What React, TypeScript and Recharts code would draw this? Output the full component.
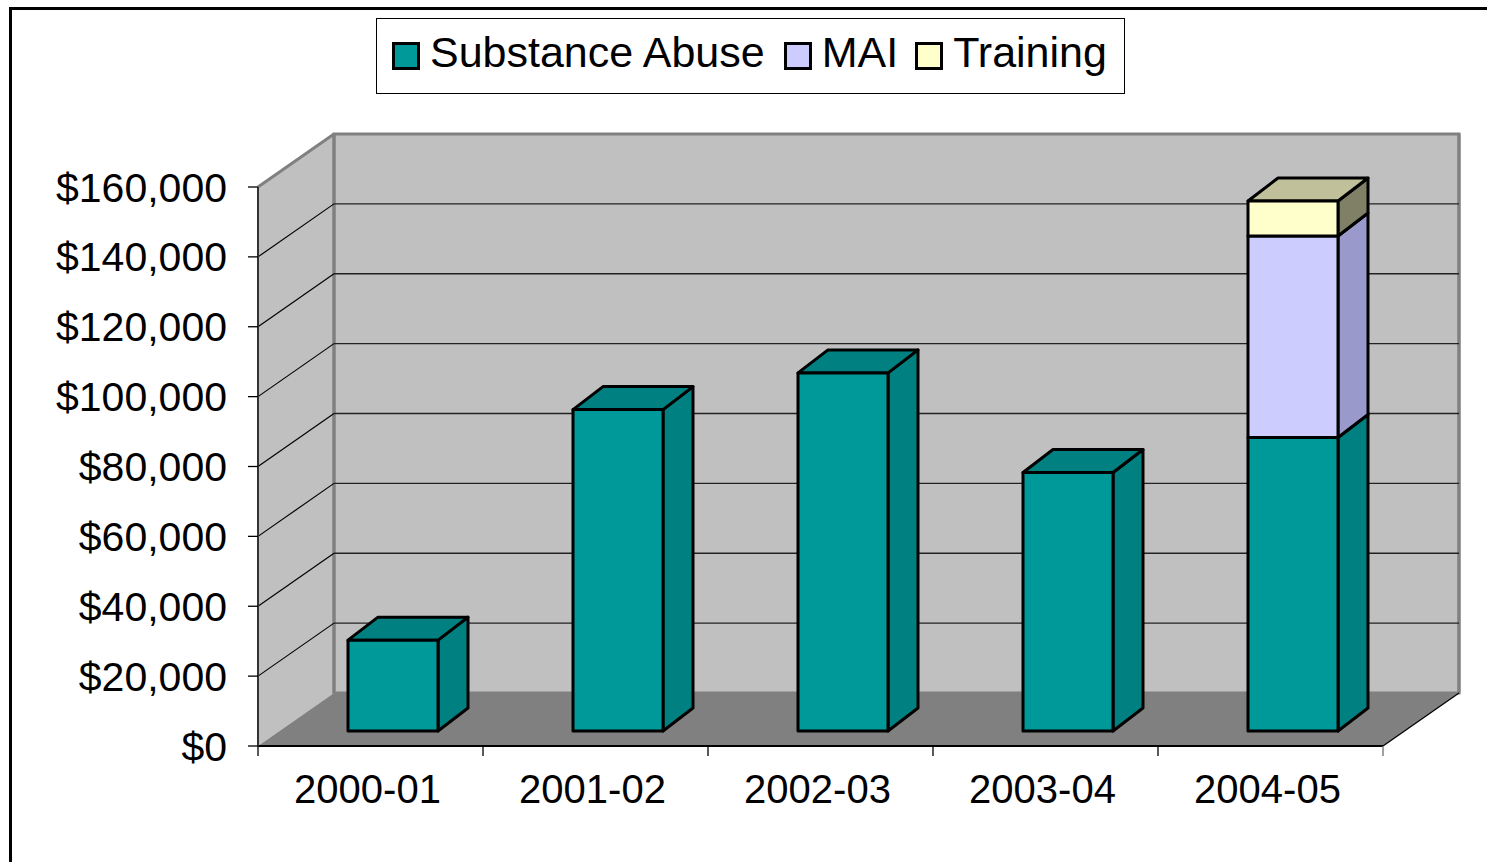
import React from 'react';
import { BarChart, Bar, XAxis, YAxis, CartesianGrid, Legend } from 'recharts';

const categories = ['2000-01', '2001-02', '2002-03', '2003-04', '2004-05'];
const substanceAbuse = [26000, 92000, 102500, 74000, 84000];
const mai = [0, 0, 0, 0, 57700];
const training = [0, 0, 0, 0, 10000];
const yTicks = [0, 20000, 40000, 60000, 80000, 100000, 120000, 140000, 160000];
const seriesNames = ['Substance Abuse', 'MAI', 'Training'];
const seriesKeys = ['sa', 'mai', 'training'];

const data = categories.map((c, i) => ({
  name: c,
  sa: substanceAbuse[i],
  mai: mai[i],
  training: training[i],
}));

const FONT = '"Liberation Sans", Arial, Helvetica, sans-serif';
const WALL_DX = 76;
const WALL_DY = -53;
const BAR_DX = 22;
const BAR_DY = -15;
const DEPTH_DX = 30;
const DEPTH_DY = -23;

const colors: Record<string, { front: string; top: string; side: string }> = {
  sa: { front: '#009999', top: '#008080', side: '#008080' },
  mai: { front: '#CCCCFF', top: '#AAAADD', side: '#9999CC' },
  training: { front: '#FFFFCC', top: '#C0C09B', side: '#808066' },
};

function topKeyOf(payload: any) {
  if (!payload) return null;
  for (let i = seriesKeys.length - 1; i >= 0; i--) {
    if (payload[seriesKeys[i]] > 0) return seriesKeys[i];
  }
  return null;
}

const makeBarShape = (key: string) => (props: any) => {
  const { x, y, width, height, payload } = props;
  if (!(height > 0.5)) return <g />;
  const c = colors[key];
  const fx = x + BAR_DX;
  const fy = y + BAR_DY;
  const w = width;
  const h = height;
  const showTop = topKeyOf(payload) === key;
  const sw = 3;
  return (
    <g>
      <polygon
        points={`${fx + w},${fy} ${fx + w + DEPTH_DX},${fy + DEPTH_DY} ${fx + w + DEPTH_DX},${fy + h + DEPTH_DY} ${fx + w},${fy + h}`}
        fill={c.side}
        stroke="#000"
        strokeWidth={sw}
        strokeLinejoin="round"
      />
      {showTop && (
        <polygon
          points={`${fx},${fy} ${fx + DEPTH_DX},${fy + DEPTH_DY} ${fx + w + DEPTH_DX},${fy + DEPTH_DY} ${fx + w},${fy}`}
          fill={c.top}
          stroke="#000"
          strokeWidth={sw}
          strokeLinejoin="round"
        />
      )}
      <rect x={fx} y={fy} width={w} height={h} fill={c.front} stroke="#000" strokeWidth={sw} strokeLinejoin="round" />
    </g>
  );
};

const renderGridLine = (p: any) => {
  const { x1, x2, y1, index } = p;
  const gx = typeof p.x === 'number' ? p.x : x1;
  const gw = typeof p.width === 'number' ? p.width : x2 - x1;
  const gy = p.y;
  const gh = p.height;
  const L = gx;
  const R = gx + gw;
  const hasBox = typeof gy === 'number' && typeof gh === 'number';
  const T = hasBox ? gy : -9999;
  const B = hasBox ? gy + gh : -9999;
  const isEdge = Math.abs(y1 - T) < 1 || Math.abs(y1 - B) < 1;
  const walls =
    index === 0 && hasBox ? (
      <g>
        <polygon
          points={`${L},${B} ${L},${T} ${L + WALL_DX},${T + WALL_DY} ${L + WALL_DX},${B + WALL_DY}`}
          fill="#C0C0C0"
        />
        <rect x={L + WALL_DX} y={T + WALL_DY} width={R - L} height={B - T} fill="#C0C0C0" stroke="#808080" strokeWidth={3} />
        <polygon
          points={`${L},${B} ${R},${B} ${R + WALL_DX},${B + WALL_DY} ${L + WALL_DX},${B + WALL_DY}`}
          fill="#808080"
        />
        <line x1={L} y1={T} x2={L + WALL_DX} y2={T + WALL_DY} stroke="#808080" strokeWidth={3} />
        <line x1={L + WALL_DX} y1={T + WALL_DY} x2={L + WALL_DX} y2={B + WALL_DY} stroke="#808080" strokeWidth={3} />
        <line x1={R + WALL_DX} y1={T + WALL_DY} x2={R + WALL_DX} y2={B + WALL_DY} stroke="#808080" strokeWidth={3} />
        <line x1={R} y1={B} x2={R + WALL_DX} y2={B + WALL_DY} stroke="#000" strokeWidth={1.3} />
      </g>
    ) : null;
  return (
    <g key={`hl-${index}`}>
      {walls}
      {!isEdge && (
        <g>
          <line x1={L} y1={y1} x2={L + WALL_DX} y2={y1 + WALL_DY} stroke="#000" strokeWidth={1.2} />
          <line x1={L + WALL_DX} y1={y1 + WALL_DY} x2={R + WALL_DX} y2={y1 + WALL_DY} stroke="#222" strokeWidth={1.3} />
        </g>
      )}
    </g>
  );
};

const XTick = (p: any) => {
  const { x, y, payload, index, visibleTicksCount, width } = p;
  const count = visibleTicksCount || categories.length;
  const half = typeof payload?.offset === 'number' && payload.offset > 0 ? payload.offset : width / count / 2;
  const axisY = y - 12;
  return (
    <g>
      <line x1={x - half} y1={axisY} x2={x - half} y2={axisY + 10} stroke="#000" strokeWidth={1.3} />
      {index === count - 1 && <line x1={x + half} y1={axisY} x2={x + half} y2={axisY + 10} stroke="#808080" strokeWidth={1.5} />}
      <text x={x - 3} y={y + 45} textAnchor="middle" fontSize={40} fontFamily={FONT} fill="#000">
        {payload.value}
      </text>
    </g>
  );
};

const renderLegend = () => (
  <div
    style={{
      boxSizing: 'border-box',
      width: 749,
      height: 76,
      border: '1px solid #000',
      background: '#fff',
      display: 'flex',
      alignItems: 'center',
      paddingLeft: 15,
      paddingBottom: 7,
      fontFamily: FONT,
      fontSize: 43,
      lineHeight: 1,
      color: '#000',
    }}
  >
    {seriesKeys.map((k, i) => (
      <div key={k} style={{ display: 'flex', alignItems: 'center', marginRight: i === 0 ? 19 : 17 }}>
        <div
          style={{
            boxSizing: 'border-box',
            width: 28,
            height: 28,
            border: '3px solid #000',
            background: colors[k].front,
            marginRight: 10,
            marginTop: 6,
          }}
        />
        <span style={{ whiteSpace: 'nowrap' }}>{seriesNames[i]}</span>
      </div>
    ))}
  </div>
);

const fmt = (v: number) => '$' + v.toLocaleString('en-US');

export default function App() {
  return (
    <div style={{ position: 'absolute', left: 0, top: 0, width: 1487, height: 862, overflow: 'hidden', background: '#fff' }}>
      <BarChart
        width={1487}
        height={862}
        data={data}
        margin={{ top: 187, right: 104, bottom: 0, left: 0 }}
        barSize={90}
      >
        <CartesianGrid vertical={false} horizontal={renderGridLine} />
        <XAxis
          dataKey="name"
          height={116}
          axisLine={{ stroke: '#000', strokeWidth: 2 }}
          tickLine={false}
          tickSize={10}
          tickMargin={2}
          tick={<XTick />}
          interval={0}
        />
        <YAxis
          width={258}
          domain={[0, 160000]}
          ticks={yTicks}
          tickFormatter={fmt}
          axisLine={{ stroke: '#333', strokeWidth: 2 }}
          tickLine={{ stroke: '#000', strokeWidth: 1.3 }}
          tickSize={10}
          tickMargin={21}
          tick={{ fontSize: 41, fontFamily: FONT, fill: '#000' }}
          interval={0}
        />
        <Legend
          layout="vertical"
          align="center"
          verticalAlign="middle"
          content={renderLegend}
          wrapperStyle={{ position: 'absolute', left: 376, top: 18, width: 749, height: 76 }}
        />
        <Bar dataKey="sa" stackId="a" isAnimationActive={false} shape={makeBarShape('sa')} fill={colors.sa.front} />
        <Bar dataKey="mai" stackId="a" isAnimationActive={false} shape={makeBarShape('mai')} fill={colors.mai.front} />
        <Bar dataKey="training" stackId="a" isAnimationActive={false} shape={makeBarShape('training')} fill={colors.training.front} />
      </BarChart>
      <div
        style={{
          position: 'absolute',
          left: 9,
          top: 7,
          width: 1600,
          height: 1000,
          borderTop: '3px solid #000',
          borderLeft: '3px solid #000',
          pointerEvents: 'none',
        }}
      />
    </div>
  );
}
